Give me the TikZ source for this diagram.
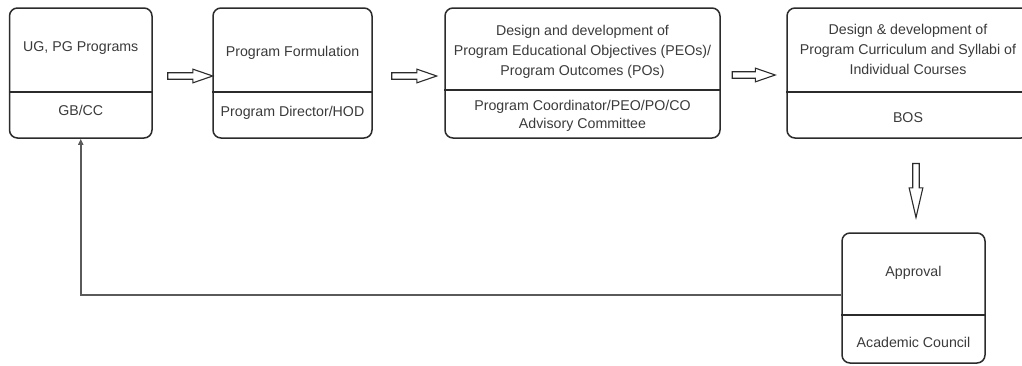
\documentclass[tikz,border=0pt]{standalone}
\usepackage{fontspec}
\setmainfont{Liberation Sans}
\usetikzlibrary{shapes.arrows,arrows.meta,calc}
\definecolor{edge}{HTML}{2B2B2B}
\definecolor{ink}{HTML}{3A3A3A}
\definecolor{feed}{HTML}{5A5A5A}
\begin{document}
\begin{tikzpicture}[x=1pt,y=-1pt,
  box/.style={draw=edge,line width=1.5pt,rounded corners=8pt,inner sep=0pt},
  divider/.style={draw=edge,line width=1.3pt},
  label/.style={text=ink,font=\fontsize{14.2}{20}\selectfont,align=center,inner sep=0pt},
  blockarrow/.style={single arrow,draw=edge,line width=1.1pt,fill=white,
    inner sep=2.7pt,single arrow head extend=3.6pt,single arrow tip angle=38,
    single arrow head indent=0pt,minimum height=45pt},
  feedback/.style={draw=feed,line width=1.5pt,-{Triangle[length=6pt,width=5pt]}}]
\useasboundingbox (0,0) rectangle (1022,365);
\clip (0,0) rectangle (1022,365);

% stage boxes
\node[box,minimum width=142.5pt,minimum height=130pt] (b1) at (80.75,73) {};
\node[box,minimum width=159pt,minimum height=130pt] (b2) at (292.5,73) {};
\node[box,minimum width=275pt,minimum height=130pt] (b3) at (582.5,73) {};
\node[box,minimum width=242pt,minimum height=130pt] (b4) at (908,73) {};
\node[box,minimum width=143pt,minimum height=130pt] (b5) at (913.5,298) {};

% dividers between task and responsible body
\draw[divider] (b1.west |- 0,92) -- (b1.east |- 0,92);
\draw[divider] (b2.west |- 0,92) -- (b2.east |- 0,92);
\draw[divider] (b3.west |- 0,90) -- (b3.east |- 0,90);
\draw[divider] (b4.west |- 0,92) -- (b4.east |- 0,92);
\draw[divider] (b5.west |- 0,315) -- (b5.east |- 0,315);

% texts
\node[label] (t1) at (80.75,48) {UG, PG Programs};
\node[label] (r1) at (80.75,110) {GB/CC};
\node[label] (t2) at (292.5,53) {Program Formulation};
\node[label] (r2) at (292.5,113) {Program Director/HOD};
\node[label] (t3) at (582.5,52) {Design and development of\\Program Educational Objectives (PEOs)/\\Program Outcomes (POs)};
\node[label,font=\fontsize{14.2}{18.5}\selectfont] (r3) at (582.5,116) {Program Coordinator/PEO/PO/CO\\Advisory Committee};
\node[label] (t4) at (908,49) {Design \& development of\\Program Curriculum and Syllabi of\\Individual Courses};
\node[label] (r4) at (908,118) {BOS};
\node[label] (t5) at (913.5,273) {Approval};
\node[label] (r5) at (913.5,342) {Academic Council};

% block arrows between stages
\node[blockarrow] (a1) at (185.5,76) {};
\node[blockarrow] (a2) at (409.5,76) {};
\node[blockarrow,minimum height=43pt] (a3) at (749,75) {};
\node[blockarrow,rotate=-90,minimum height=54pt,single arrow tip angle=26] (a4) at (916,183.5) {};

% feedback from approval back to programs
\draw[feedback] ([yshift=3pt]b5.west) -| (b1.south);
\end{tikzpicture}
\end{document}
